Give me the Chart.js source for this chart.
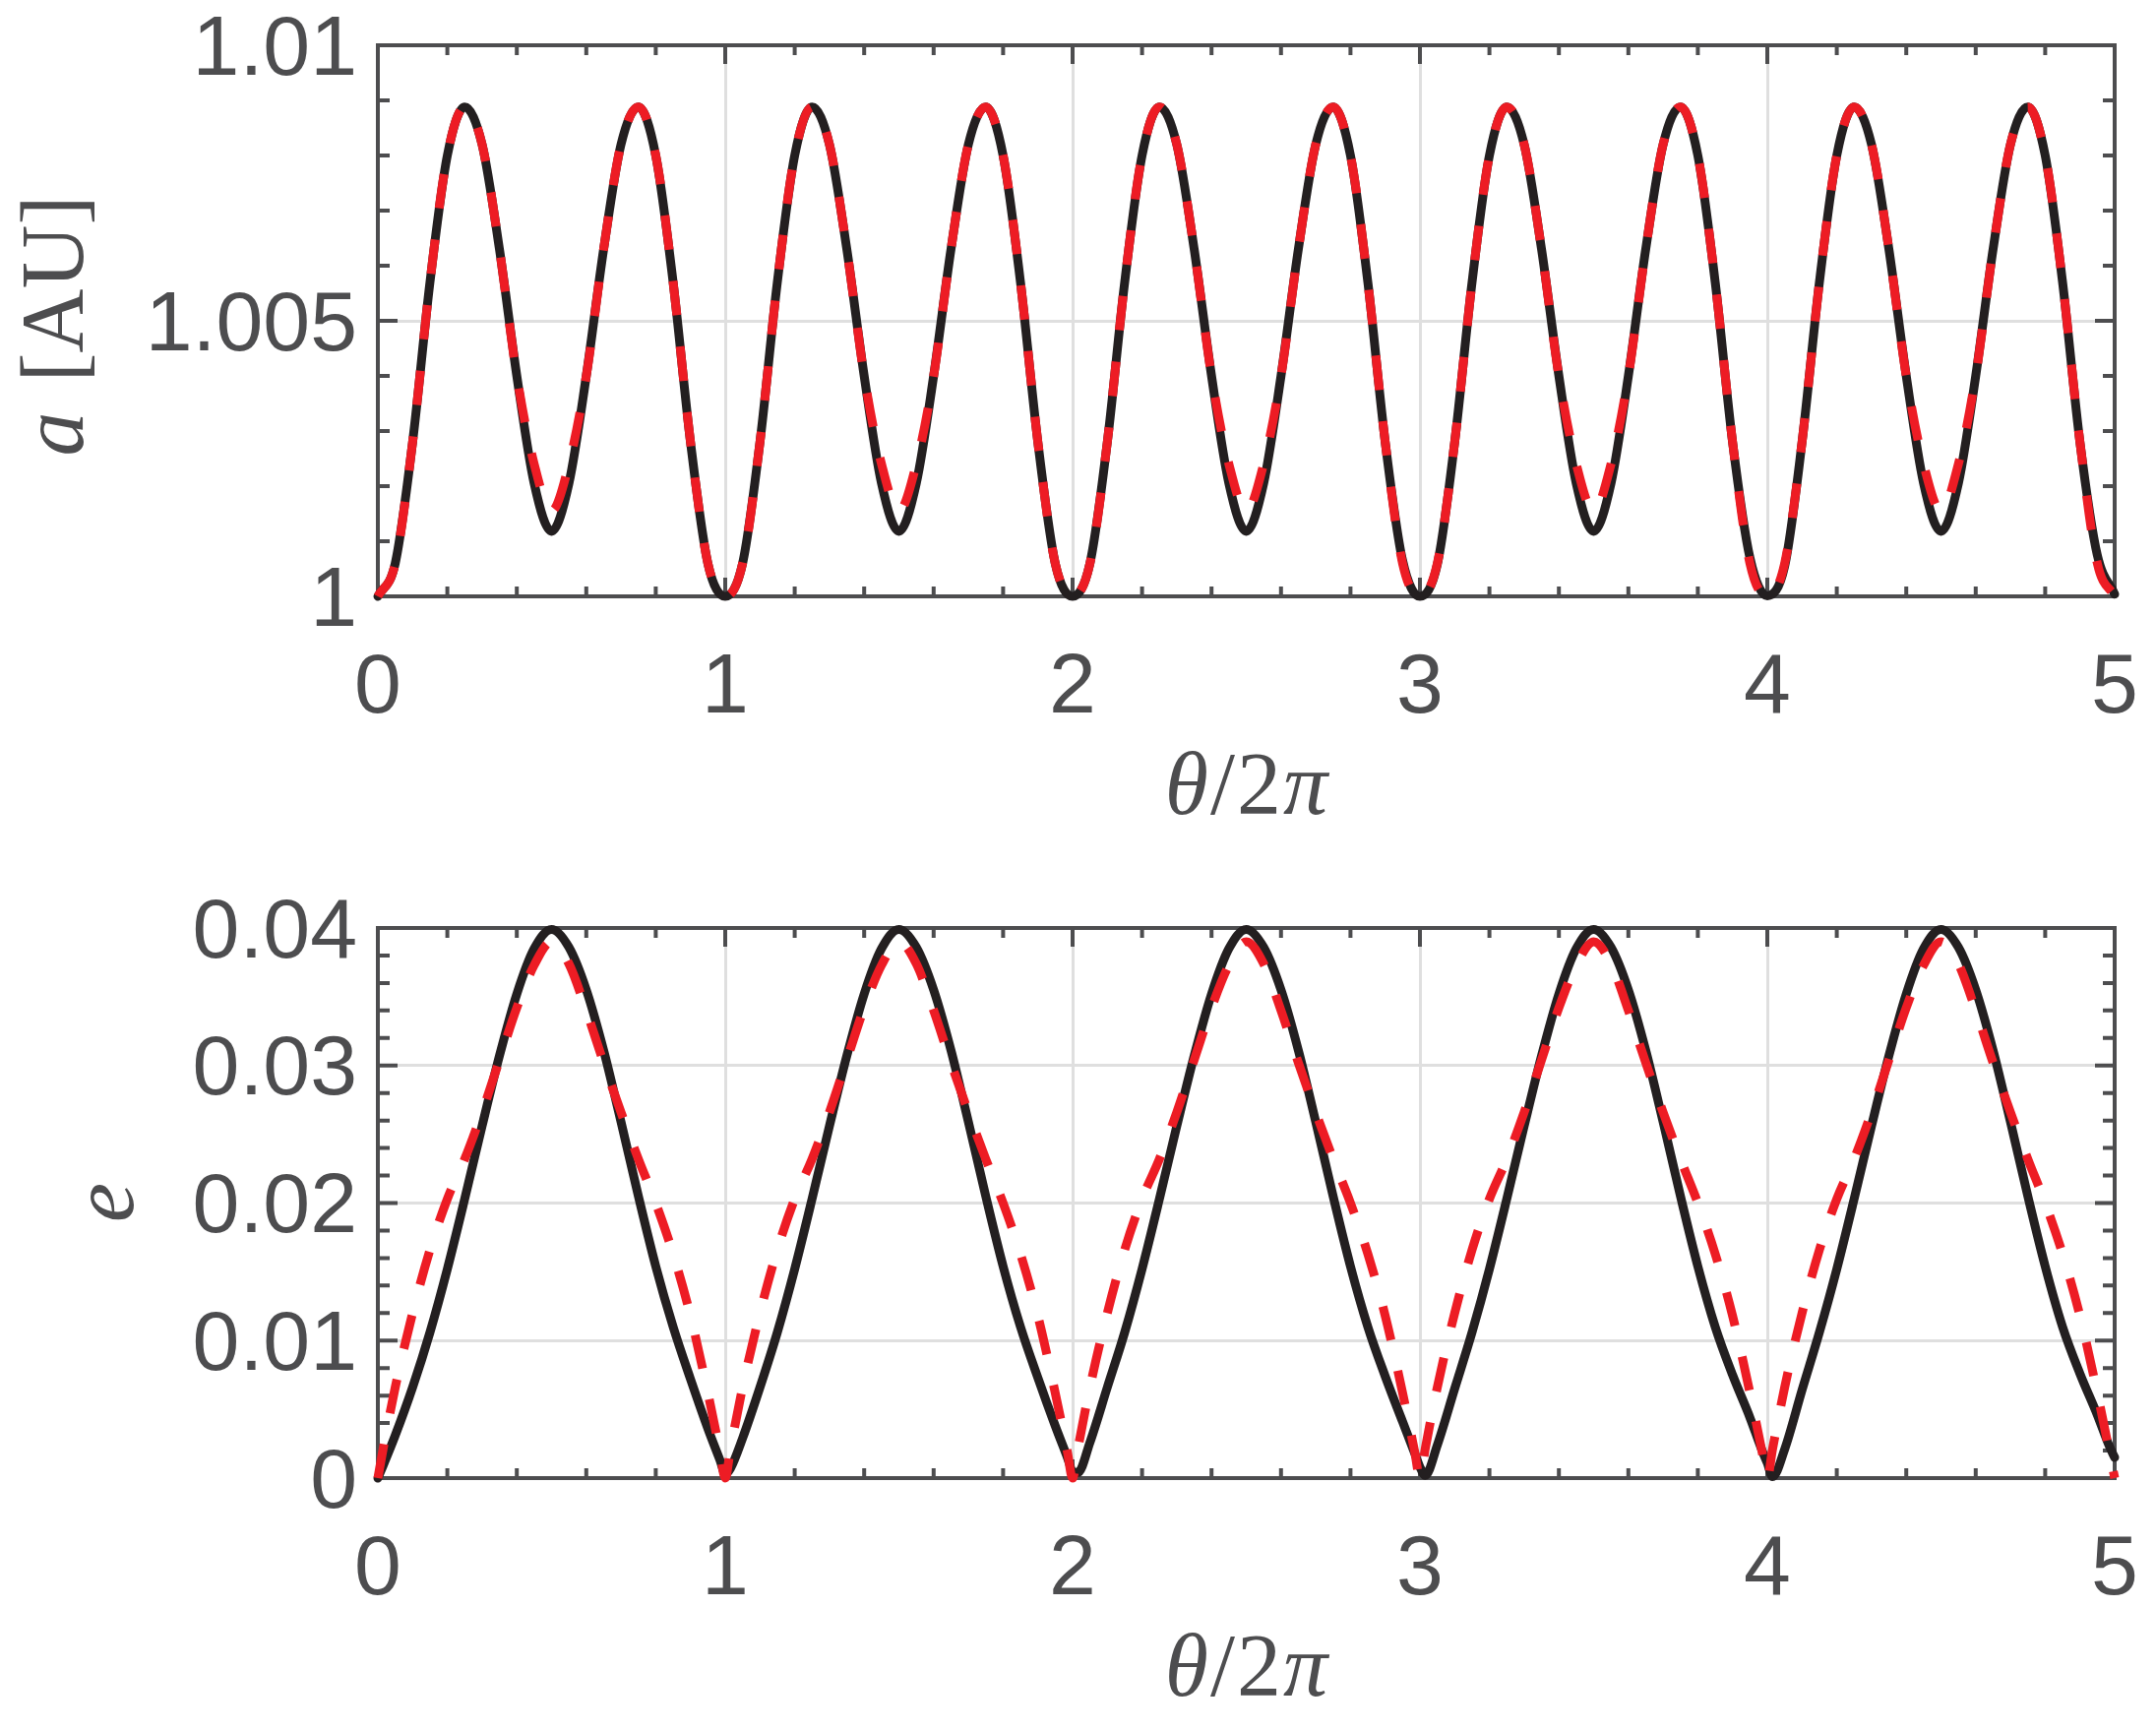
<!DOCTYPE html>
<html>
<head>
<meta charset="utf-8">
<script src="https://cdn.jsdelivr.net/npm/chart.js@4.4.1/dist/chart.umd.min.js"></script>
<style>
  html, body { margin: 0; padding: 0; background: #ffffff; width: 2191px; height: 1759px; overflow: hidden; }
  canvas { position: absolute; left: 0; }
</style>
</head>
<body>
<canvas id="topChart" width="2191" height="880" style="top:0px;width:2191px;height:880px"></canvas>
<canvas id="bottomChart" width="2191" height="879" style="top:880px;width:2191px;height:879px"></canvas>
<script>
// ---------- data ----------
// theta/2pi sample positions for the semi-major axis panel
const thetaA = [
  0,0.05,0.1,0.15,0.2,0.25,0.3,0.35,0.4,0.45,0.5,0.55,0.6,0.65,0.7,0.75,0.8,0.85,0.9,0.95,
  1,1.05,1.1,1.15,1.2,1.25,1.3,1.35,1.4,1.45,1.5,1.55,1.6,1.65,1.7,1.75,1.8,1.85,1.9,1.95,
  2,2.05,2.1,2.15,2.2,2.25,2.3,2.35,2.4,2.45,2.5,2.55,2.6,2.65,2.7,2.75,2.8,2.85,2.9,2.95,
  3,3.05,3.1,3.15,3.2,3.25,3.3,3.35,3.4,3.45,3.5,3.55,3.6,3.65,3.7,3.75,3.8,3.85,3.9,3.95,
  4,4.05,4.1,4.15,4.2,4.25,4.3,4.35,4.4,4.45,4.5,4.55,4.6,4.65,4.7,4.75,4.8,4.85,4.9,4.95,
  5
];

// semi-major axis a [AU], solid black curve
const aSolid = [
  1.00000,1.00060,1.00280,1.00570,1.00800,1.00888,1.00820,1.00630,1.00400,1.00205,1.00118,1.00205,1.00400,1.00630,1.00820,1.00888,1.00800,1.00570,1.00280,1.00060,
  1.00000,1.00060,1.00280,1.00570,1.00800,1.00888,1.00820,1.00630,1.00400,1.00205,1.00118,1.00205,1.00400,1.00630,1.00820,1.00888,1.00800,1.00570,1.00280,1.00060,
  1.00000,1.00060,1.00280,1.00570,1.00800,1.00888,1.00820,1.00630,1.00400,1.00205,1.00118,1.00205,1.00400,1.00630,1.00820,1.00888,1.00800,1.00570,1.00280,1.00065,
  1.00000,1.00058,1.00280,1.00570,1.00800,1.00888,1.00820,1.00630,1.00400,1.00205,1.00118,1.00205,1.00400,1.00630,1.00820,1.00888,1.00800,1.00570,1.00280,1.00070,
  1.00001,1.00055,1.00280,1.00570,1.00800,1.00888,1.00820,1.00630,1.00400,1.00205,1.00118,1.00205,1.00400,1.00630,1.00820,1.00888,1.00800,1.00570,1.00280,1.00075,
  1.00004
];

// semi-major axis a [AU], red dashed curve
const aDashed = [
  1.00000,1.00060,1.00280,1.00570,1.00800,1.00888,1.00820,1.00630,1.00400,1.00240,1.00155,1.00240,1.00400,1.00630,1.00820,1.00888,1.00800,1.00570,1.00280,1.00060,
  1.00000,1.00060,1.00280,1.00570,1.00800,1.00888,1.00820,1.00630,1.00400,1.00240,1.00155,1.00240,1.00400,1.00630,1.00820,1.00888,1.00800,1.00570,1.00280,1.00060,
  1.00000,1.00060,1.00280,1.00570,1.00800,1.00888,1.00820,1.00630,1.00400,1.00240,1.00155,1.00240,1.00400,1.00630,1.00820,1.00888,1.00800,1.00570,1.00280,1.00060,
  1.00000,1.00060,1.00280,1.00570,1.00800,1.00888,1.00820,1.00630,1.00400,1.00240,1.00155,1.00240,1.00400,1.00630,1.00820,1.00888,1.00800,1.00570,1.00280,1.00060,
  1.00000,1.00060,1.00280,1.00570,1.00800,1.00888,1.00820,1.00630,1.00400,1.00240,1.00155,1.00240,1.00400,1.00630,1.00820,1.00888,1.00800,1.00570,1.00280,1.00060,
  1.00000
];

// theta/2pi sample positions for the eccentricity panel (extra samples next to the sharp minima)
const thetaE = [
  0,0.015,0.05,0.1,0.15,0.2,0.25,0.3,0.35,0.4,0.45,0.5,0.55,0.6,0.65,0.7,0.75,0.8,0.85,0.9,0.95,0.985,
  1,1.015,1.05,1.1,1.15,1.2,1.25,1.3,1.35,1.4,1.45,1.5,1.55,1.6,1.65,1.7,1.75,1.8,1.85,1.9,1.95,1.985,
  2,2.015,2.05,2.1,2.15,2.2,2.25,2.3,2.35,2.4,2.45,2.5,2.55,2.6,2.65,2.7,2.75,2.8,2.85,2.9,2.95,2.985,
  3,3.015,3.05,3.1,3.15,3.2,3.25,3.3,3.35,3.4,3.45,3.5,3.55,3.6,3.65,3.7,3.75,3.8,3.85,3.9,3.95,3.985,
  4,4.015,4.05,4.1,4.15,4.2,4.25,4.3,4.35,4.4,4.45,4.5,4.55,4.6,4.65,4.7,4.75,4.8,4.85,4.9,4.95,4.985,
  5
];

// eccentricity e, solid black curve
const eSolid = [
  0.0000,0.0009,0.0031,0.0066,0.0106,0.0152,0.0203,0.0256,0.0307,0.0352,0.0385,0.0399,0.0386,0.0355,0.0311,0.0259,0.0205,0.0154,0.0110,0.0072,0.0036,0.0013,
  0.0003,0.0007,0.0029,0.0066,0.0106,0.0152,0.0203,0.0256,0.0307,0.0352,0.0385,0.0399,0.0386,0.0355,0.0311,0.0259,0.0205,0.0154,0.0110,0.0073,0.0038,0.0015,
  0.0005,0.0004,0.0026,0.0066,0.0106,0.0152,0.0203,0.0256,0.0307,0.0352,0.0385,0.0399,0.0386,0.0355,0.0311,0.0259,0.0205,0.0154,0.0110,0.0074,0.0041,0.0018,
  0.0008,0.0002,0.0024,0.0065,0.0106,0.0152,0.0203,0.0256,0.0307,0.0352,0.0385,0.0399,0.0386,0.0355,0.0311,0.0259,0.0205,0.0154,0.0110,0.0075,0.0044,0.0020,
  0.0011,0.0001,0.0021,0.0064,0.0106,0.0152,0.0203,0.0256,0.0307,0.0352,0.0385,0.0399,0.0386,0.0355,0.0311,0.0259,0.0205,0.0154,0.0110,0.0076,0.0046,0.0023,
  0.0015
];

// eccentricity e, red dashed curve
const eDashed = [
  0.0000,0.0021,0.0066,0.0120,0.0166,0.0203,0.0232,0.0266,0.0304,0.0342,0.0373,0.0390,0.0374,0.0340,0.0302,0.0266,0.0232,0.0200,0.0163,0.0118,0.0062,0.0019,
  0.0000,0.0021,0.0066,0.0120,0.0166,0.0203,0.0232,0.0266,0.0304,0.0342,0.0373,0.0390,0.0374,0.0340,0.0302,0.0266,0.0232,0.0200,0.0163,0.0118,0.0062,0.0019,
  0.0000,0.0021,0.0066,0.0120,0.0166,0.0203,0.0232,0.0266,0.0304,0.0342,0.0373,0.0390,0.0374,0.0340,0.0302,0.0266,0.0232,0.0200,0.0163,0.0118,0.0062,0.0019,
  0.0000,0.0021,0.0066,0.0120,0.0166,0.0203,0.0232,0.0266,0.0304,0.0342,0.0373,0.0390,0.0374,0.0340,0.0302,0.0266,0.0232,0.0200,0.0163,0.0118,0.0062,0.0019,
  0.0000,0.0021,0.0066,0.0120,0.0166,0.0203,0.0232,0.0266,0.0304,0.0342,0.0373,0.0390,0.0374,0.0340,0.0302,0.0266,0.0232,0.0200,0.0163,0.0118,0.0062,0.0019,
  0.0000
];

// ticks
const xTicks = [0, 1, 2, 3, 4, 5];
const xTickLabels = ['0', '1', '2', '3', '4', '5'];
const xMinorStep = 0.2;
const aTicks = [1, 1.005, 1.01];
const aTickLabels = ['1', '1.005', '1.01'];
const aMinorStep = 0.001;
const eTicks = [0, 0.01, 0.02, 0.03, 0.04];
const eTickLabels = ['0', '0.01', '0.02', '0.03', '0.04'];
const eMinorStep = 0.002;

// ---------- styling ----------
const AXIS = '#4d4d4f';
const GRID = '#dfdfdf';
const BLACK = '#231f20';
const RED = '#ed1c24';
const SANS = '"Liberation Sans", Arial, Helvetica, sans-serif';
const SERIF = '"Liberation Serif", "Times New Roman", serif';
const TICK_FONT = { family: SANS, size: 86, lineHeight: 1.2 };
const TITLE_SIZE = 90;

function minorList(min, max, step, majors) {
  const out = [];
  const n = Math.round((max - min) / step);
  for (let i = 0; i <= n; i++) {
    const v = min + i * step;
    if (!majors.some(m => Math.abs(m - v) < step * 1e-3)) out.push(v);
  }
  return out;
}

function drawSegments(ctx, segs, cx, cy, baseline, vertical) {
  ctx.save();
  ctx.fillStyle = AXIS;
  ctx.textBaseline = 'alphabetic';
  ctx.textAlign = 'left';
  const widths = segs.map(s => { ctx.font = s.font; return ctx.measureText(s.t).width; });
  let total = 0;
  segs.forEach((s, i) => { total += widths[i] + (s.gap || 0); });
  if (vertical) {
    ctx.translate(baseline, cy);
    ctx.rotate(-Math.PI / 2);
    let x = -total / 2;
    segs.forEach((s, i) => { x += (s.gap || 0); ctx.font = s.font; ctx.fillText(s.t, x, 0); x += widths[i]; });
  } else {
    let x = cx - total / 2;
    segs.forEach((s, i) => { x += (s.gap || 0); ctx.font = s.font; ctx.fillText(s.t, x, baseline); x += widths[i]; });
  }
  ctx.restore();
}

function makeFramePlugin(cfg) {
  return {
    id: 'frame_' + cfg.name,
    beforeDatasetsDraw(chart) {
      const { ctx, chartArea: a, scales } = chart;
      const xs = scales.x, ys = scales.y;
      ctx.save();
      ctx.strokeStyle = AXIS;
      ctx.lineWidth = 4;
      ctx.lineCap = 'butt';
      ctx.beginPath();
      const xMin = minorList(0, 5, xMinorStep, xTicks);
      xMin.forEach(v => {
        const p = xs.getPixelForValue(v);
        ctx.moveTo(p, a.bottom); ctx.lineTo(p, a.bottom - 10);
        ctx.moveTo(p, a.top); ctx.lineTo(p, a.top + 10);
      });
      xTicks.forEach(v => {
        const p = xs.getPixelForValue(v);
        ctx.moveTo(p, a.bottom); ctx.lineTo(p, a.bottom - 19);
        ctx.moveTo(p, a.top); ctx.lineTo(p, a.top + 19);
      });
      const yMin = minorList(cfg.yMin, cfg.yMax, cfg.yMinorStep, cfg.yTicks);
      yMin.forEach(v => {
        const p = ys.getPixelForValue(v);
        ctx.moveTo(a.left, p); ctx.lineTo(a.left + 12, p);
        ctx.moveTo(a.right, p); ctx.lineTo(a.right - 12, p);
      });
      cfg.yTicks.forEach(v => {
        const p = ys.getPixelForValue(v);
        ctx.moveTo(a.left, p); ctx.lineTo(a.left + 20, p);
        ctx.moveTo(a.right, p); ctx.lineTo(a.right - 20, p);
      });
      ctx.stroke();
      ctx.strokeRect(a.left, a.top, a.right - a.left, a.bottom - a.top);
      ctx.restore();
    },
    afterDraw(chart) {
      const { ctx, chartArea: a } = chart;
      const it = 'italic ' + TITLE_SIZE + 'px ' + SERIF;
      const up = TITLE_SIZE + 'px ' + SERIF;
      // x-axis title  θ/2π
      drawSegments(ctx, [
        { t: 'θ', font: it },
        { t: '/', font: up, gap: 2 },
        { t: '2', font: up, gap: 2 },
        { t: 'π', font: it, gap: 2 }
      ], (a.left + a.right) / 2, 0, a.bottom + cfg.xTitleDrop, false);
      // y-axis title
      drawSegments(ctx, cfg.yTitle(it, up), 0, cfg.yTitleCenter, cfg.yTitleBaseline, true);
    }
  };
}

function makeChart(canvasId, cfg) {
  const H = document.getElementById(canvasId).height;
  return new Chart(document.getElementById(canvasId), {
    type: 'line',
    data: {
      datasets: [
        {
          label: 'dashed',
          data: cfg.xs.map((t, i) => ({ x: t, y: cfg.dashed[i] })),
          borderColor: RED,
          borderWidth: 9,
          borderDash: [35, 32],
          borderCapStyle: 'butt',
          pointRadius: 0,
          fill: false,
          cubicInterpolationMode: 'monotone',
          clip: false
        },
        {
          label: 'solid',
          data: cfg.xs.map((t, i) => ({ x: t, y: cfg.solid[i] })),
          borderColor: BLACK,
          borderWidth: 9,
          borderJoinStyle: 'round',
          borderCapStyle: 'round',
          pointRadius: 0,
          fill: false,
          cubicInterpolationMode: 'monotone',
          clip: false
        }
      ]
    },
    options: {
      responsive: false,
      maintainAspectRatio: false,
      animation: false,
      devicePixelRatio: 1,
      events: [],
      layout: { padding: { left: 0, right: 42, top: cfg.padTop, bottom: 0 } },
      plugins: { legend: { display: false }, tooltip: { enabled: false }, title: { display: false } },
      scales: {
        x: {
          type: 'linear',
          min: 0,
          max: 5,
          afterBuildTicks: s => { s.ticks = xTicks.map(v => ({ value: v })); },
          afterFit: s => { s.height = H - cfg.plotBottom; s.paddingLeft = 0; s.paddingRight = 0; },
          ticks: {
            autoSkip: false,
            maxRotation: 0,
            padding: 43,
            color: AXIS,
            font: TICK_FONT,
            callback: (v, i) => xTickLabels[i]
          },
          grid: { color: GRID, lineWidth: 3, drawTicks: false },
          border: { display: false }
        },
        y: {
          type: 'linear',
          min: cfg.yMin,
          max: cfg.yMax,
          afterBuildTicks: s => { s.ticks = cfg.yTicks.map(v => ({ value: v })); },
          afterFit: s => { s.width = 384; s.paddingTop = 0; s.paddingBottom = 0; },
          ticks: {
            autoSkip: false,
            padding: 21,
            labelOffset: 6,
            color: AXIS,
            font: TICK_FONT,
            callback: (v, i) => cfg.yLabels[i]
          },
          grid: { color: GRID, lineWidth: 3, drawTicks: false },
          border: { display: false }
        }
      }
    },
    plugins: [makeFramePlugin(cfg)]
  });
}

makeChart('topChart', {
  name: 'a',
  xs: thetaA,
  solid: aSolid,
  dashed: aDashed,
  yMin: 1, yMax: 1.01,
  yTicks: aTicks, yLabels: aTickLabels, yMinorStep: aMinorStep,
  padTop: 46, plotBottom: 606,
  xTitleDrop: 221,
  yTitleCenter: 331, yTitleBaseline: 84,
  yTitle: (it, up) => [ { t: 'a', font: it }, { t: '[AU]', font: up, gap: 30 } ]
});

makeChart('bottomChart', {
  name: 'e',
  xs: thetaE,
  solid: eSolid,
  dashed: eDashed,
  yMin: 0, yMax: 0.04,
  yTicks: eTicks, yLabels: eTickLabels, yMinorStep: eMinorStep,
  padTop: 63, plotBottom: 622,
  xTitleDrop: 221,
  yTitleCenter: 342, yTitleBaseline: 135,
  yTitle: (it, up) => [ { t: 'e', font: it } ]
});
</script>
</body>
</html>
